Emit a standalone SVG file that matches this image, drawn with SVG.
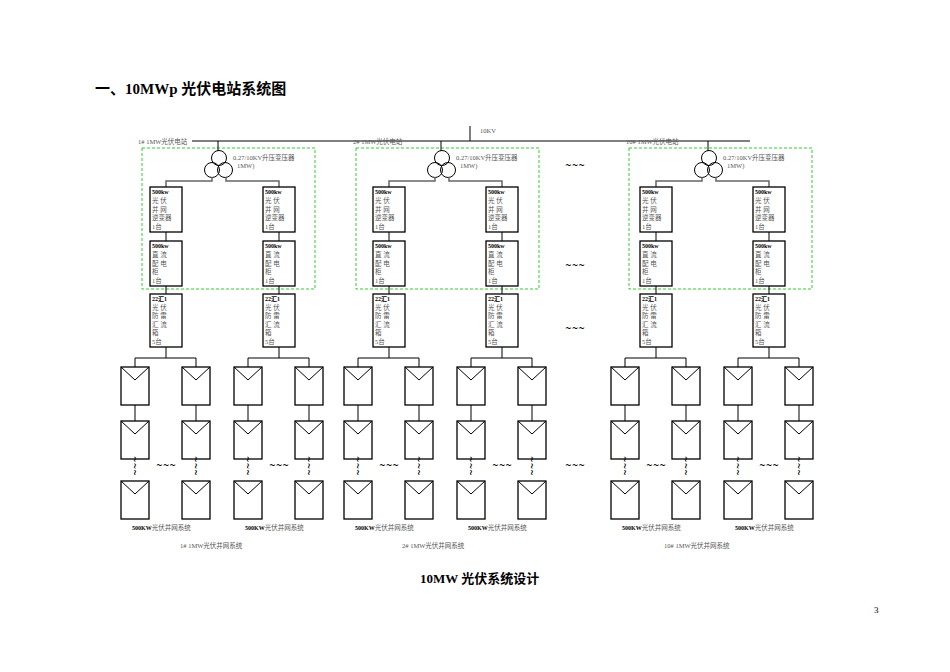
<svg xmlns="http://www.w3.org/2000/svg" xmlns:xlink="http://www.w3.org/1999/xlink" width="950" height="672" viewBox="0 0 950 672">
<style>
.ln{stroke:#000;stroke-width:1;fill:none}
.gl{stroke:#666;stroke-width:1.5;fill:none}
.bx{stroke:#000;stroke-width:1.3;fill:#fff}
.ds{stroke:#3c3;stroke-width:1;fill:none;stroke-dasharray:3,2}
.t{font-family:"Liberation Serif","Noto Sans CJK SC",serif;font-size:6.5px;fill:#555}
.tb{font-family:"Liberation Serif","Noto Sans CJK SC",serif;font-size:6px;font-weight:bold;fill:#000}
.el{font-family:"DejaVu Sans",sans-serif;font-size:8px;font-weight:bold;fill:#000}
</style>
<defs>
<g id="mod"><rect class="bx" x="0" y="0" width="28" height="38"/><polyline class="ln" points="0,0 14,13 28,0"/></g>
<g id="inv"><rect class="bx" x="0" y="0" width="32" height="45"/><text class="tb" x="2" y="7">500kw</text><text class="t" x="2" y="16">光  伏</text><text class="t" x="2" y="24.5">并  网</text><text class="t" x="2" y="33">逆变器</text><text class="t" x="2" y="41.5">1台</text></g>
<g id="dc"><rect class="bx" x="0" y="0" width="32" height="45"/><text class="tb" x="2" y="7">500kw</text><text class="t" x="2" y="16">直  流</text><text class="t" x="2" y="24.5">配  电</text><text class="t" x="2" y="33">柜</text><text class="t" x="2" y="41.5">1台</text></g>
<g id="cb"><rect class="bx" x="0" y="0" width="32" height="53"/><text class="tb" x="2" y="7">22汇1</text><text class="t" x="2" y="15.5">光  伏</text><text class="t" x="2" y="24">防  雷</text><text class="t" x="2" y="32.5">汇  流</text><text class="t" x="2" y="41">箱</text><text class="t" x="2" y="49.5">5台</text></g>
<g id="half">
<line class="ln" x1="16" y1="232" x2="16" y2="241"/>
<line class="ln" x1="16" y1="286" x2="16" y2="294"/>
<line class="ln" x1="16" y1="347" x2="16" y2="358"/>
<polyline class="ln" points="-15,367 -15,358 46,358 46,367"/>
<line class="ln" x1="-15" y1="405" x2="-15" y2="421"/>
<line class="ln" x1="46" y1="405" x2="46" y2="421"/>
<use xlink:href="#inv" x="0" y="187"/>
<use xlink:href="#dc" x="0" y="241"/>
<use xlink:href="#cb" x="0" y="294"/>
<use xlink:href="#mod" x="-29" y="367"/><use xlink:href="#mod" x="32" y="367"/>
<use xlink:href="#mod" x="-29" y="421"/><use xlink:href="#mod" x="32" y="421"/>
<use xlink:href="#mod" x="-29" y="481"/><use xlink:href="#mod" x="32" y="481"/>
<text class="el" x="-15" y="469" text-anchor="middle" transform="rotate(90 -15 466)">~~~</text>
<text class="el" x="46" y="469" text-anchor="middle" transform="rotate(90 46 466)">~~~</text>
<text class="el" x="16" y="468" text-anchor="middle">~~~</text>
<text class="t" x="-18" y="530"><tspan class="tb">500KW</tspan>光伏并网系统</text>
</g>
<g id="station">
<line class="ln" x1="218" y1="141" x2="218" y2="151"/>
<circle class="ln" cx="219" cy="158" r="7.5"/>
<circle class="ln" cx="212" cy="170" r="7.5"/>
<circle class="ln" cx="225" cy="170" r="7.5"/>
<polyline class="gl" points="212,177 212,181 166,181 166,187"/>
<polyline class="gl" points="226,177 226,181 279,181 279,187"/>
<text class="t" x="233" y="160">0.27/10KV升压变压器</text>
<text class="t" x="237" y="168">1MW)</text>
<use xlink:href="#half" x="150"/>
<use xlink:href="#half" x="263"/>
</g>
</defs>
<text x="95" y="94" style="font-family:'Liberation Serif','Noto Sans CJK SC',serif;font-size:15px;font-weight:bold">一、10MWp 光伏电站系统图</text>
<g id="connectors">
<line class="ln" x1="192" y1="141" x2="750" y2="141"/>
<line class="ln" x1="470" y1="126" x2="470" y2="141"/>
</g>
<text class="t" x="480" y="133">10KV</text>
<g id="station1"><rect class="ds" x="142" y="148" width="173" height="141"/><use xlink:href="#station"/><text class="t" x="138" y="144">1#  1MW光伏电站</text><text class="t" x="180" y="548">1#  1MW光伏并网系统</text></g>
<g id="station2"><rect class="ds" x="356" y="148" width="183" height="141"/><use xlink:href="#station" x="223"/><text class="t" x="353" y="144">2#  1MW光伏电站</text><text class="t" x="402" y="548">2#  1MW光伏并网系统</text></g>
<g id="station10"><rect class="ds" x="629" y="148" width="183" height="141"/><use xlink:href="#station" x="490"/><text class="t" x="626" y="144">10#  1MW光伏电站</text><text class="t" x="664" y="548">10#  1MW光伏并网系统</text></g>
<g id="ellipsis">
<text class="el" x="575" y="168" text-anchor="middle">~~~</text>
<text class="el" x="575" y="268" text-anchor="middle">~~~</text>
<text class="el" x="575" y="331" text-anchor="middle">~~~</text>
<text class="el" x="575" y="468" text-anchor="middle">~~~</text>
</g>
<text x="420" y="583" style="font-family:'Liberation Serif','Noto Sans CJK SC',serif;font-size:13px;font-weight:bold">10MW 光伏系统设计</text>
<text x="874" y="613" style="font-family:'Liberation Serif',serif;font-size:9px">3</text>
</svg>
